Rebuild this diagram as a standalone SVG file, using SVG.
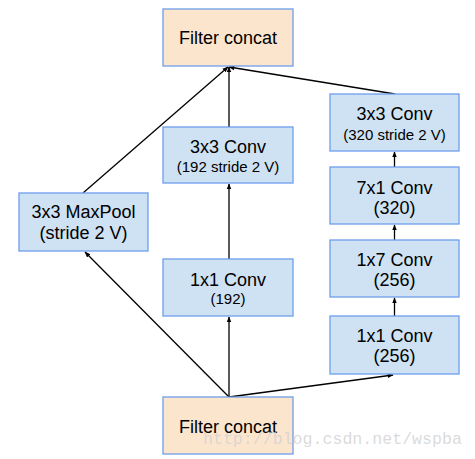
<svg xmlns="http://www.w3.org/2000/svg" width="475" height="459" viewBox="0 0 475 459">
<style>
.c{fill:#fce5cd;stroke:#6d9eeb;stroke-width:1.3}
.b{fill:#cfe2f3;stroke:#6d9eeb;stroke-width:1.3}
text{font-family:"Liberation Sans",Arial,sans-serif;fill:#000;text-anchor:middle}
.l{font-size:18px}
.s{font-size:15px}
.e line{stroke:#000;stroke-width:1.3;marker-end:url(#a)}
</style>
<defs>
<marker id="a" viewBox="0 0 10 10" refX="9" refY="5" markerWidth="6" markerHeight="6" markerUnits="userSpaceOnUse" orient="auto">
<path d="M0,1 L10,5 L0,9 Z" fill="#000"/>
</marker>
</defs>
<rect width="475" height="459" fill="#fff"/>
<g class="e" id="edges">
<line x1="229" y1="397" x2="85" y2="252"/>
<line x1="229" y1="397" x2="229" y2="317"/>
<line x1="229" y1="397" x2="393" y2="375"/>
<line x1="229" y1="259" x2="229" y2="184"/>
<line x1="229" y1="127" x2="229" y2="67"/>
<line x1="83" y1="193" x2="228" y2="67"/>
<line x1="395" y1="94" x2="229" y2="67"/>
<line x1="394.5" y1="316" x2="394.5" y2="298"/>
<line x1="394.5" y1="240" x2="394.5" y2="225"/>
<line x1="394.5" y1="167" x2="394.5" y2="152"/>
</g>
<g id="top"><rect class="c" x="163" y="9" width="130" height="57"/><text class="l" x="228" y="43.5">Filter concat</text></g>
<g id="maxpool"><rect class="b" x="19" y="193" width="129" height="58"/><text class="l" x="83.5" y="218">3x3 MaxPool</text><text class="l" x="83.5" y="239">(stride 2 V)</text></g>
<g id="conv3a"><rect class="b" x="163" y="127" width="130" height="56"/><text class="l" x="228" y="153">3x3 Conv</text><text class="s" x="228" y="172">(192 stride 2 V)</text></g>
<g id="conv1a"><rect class="b" x="163" y="259" width="130" height="57"/><text class="l" x="228" y="286">1x1 Conv</text><text class="s" x="228" y="304">(192)</text></g>
<g id="conv3b"><rect class="b" x="330" y="94" width="129" height="57"/><text class="l" x="394.5" y="119.5">3x3 Conv</text><text class="s" x="394.5" y="140">(320 stride 2 V)</text></g>
<g id="conv71"><rect class="b" x="330" y="167" width="129" height="57"/><text class="l" x="394.5" y="193.5">7x1 Conv</text><text class="l" x="394.5" y="214">(320)</text></g>
<g id="conv17"><rect class="b" x="330" y="240" width="129" height="57"/><text class="l" x="394.5" y="265.5">1x7 Conv</text><text class="l" x="394.5" y="286">(256)</text></g>
<g id="conv1b"><rect class="b" x="330" y="316" width="129" height="58"/><text class="l" x="394.5" y="342">1x1 Conv</text><text class="l" x="394.5" y="362">(256)</text></g>
<g id="bottom"><rect class="c" x="163" y="397" width="130" height="57"/><text class="l" x="228" y="433">Filter concat</text></g>
<text x="203" y="444" style="font-family:'Liberation Mono',monospace;font-size:16.6px;fill:#d4d4d4;text-anchor:start;fill-opacity:0.85">http://blog.csdn.net/wspba</text>
</svg>
